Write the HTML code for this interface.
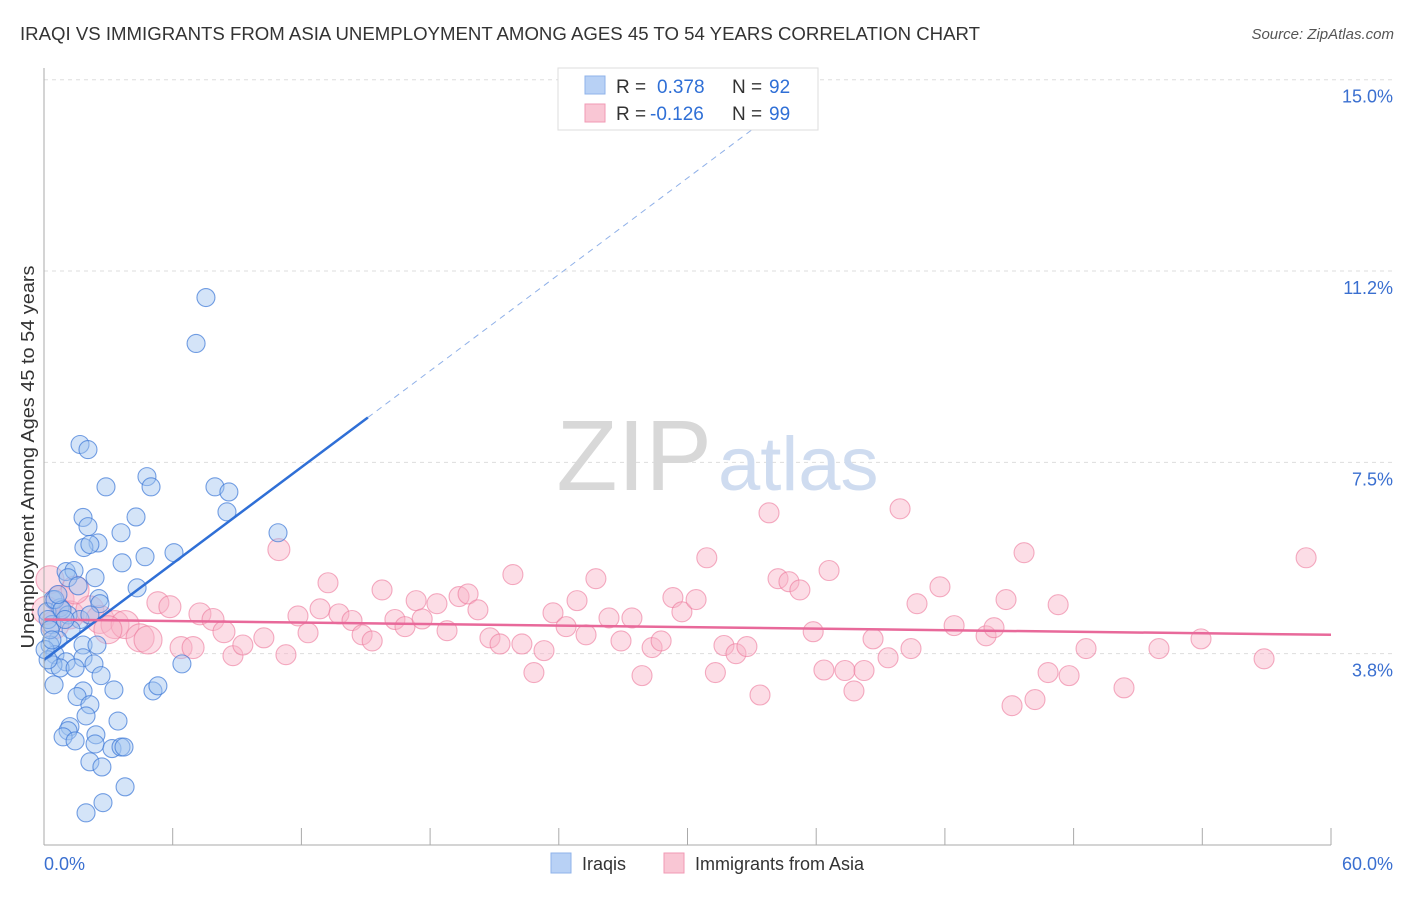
<!DOCTYPE html>
<html><head><meta charset="utf-8"><style>
body{margin:0;background:#fff;font-family:"Liberation Sans",sans-serif}
svg text{font-family:"Liberation Sans",sans-serif}
</style></head><body>
<svg width="1406" height="892" xmlns="http://www.w3.org/2000/svg">
<text x="20" y="40" font-size="18" fill="#333" textLength="960" lengthAdjust="spacingAndGlyphs">IRAQI VS IMMIGRANTS FROM ASIA UNEMPLOYMENT AMONG AGES 45 TO 54 YEARS CORRELATION CHART</text>
<text x="1394" y="39" font-size="15" fill="#555" font-style="italic" text-anchor="end">Source: ZipAtlas.com</text>
<g id="grid"></g>
<text x="712" y="490" font-size="100" fill="#d8d8d8" text-anchor="end" font-family="Liberation Serif">ZIP</text>
<text x="718" y="490" font-size="76" fill="#cfdcf0">atlas</text>
<g id="pts"></g>
<g id="lines"></g>
<line x1="44" y1="68" x2="44" y2="845" stroke="#aaa"/>
<line x1="44" y1="845" x2="1331" y2="845" stroke="#aaa"/>
<g id="xt"></g>
<text x="44" y="870" font-size="18" fill="#3a6fd0">0.0%</text>
<text x="1393" y="870" font-size="18" fill="#3a6fd0" text-anchor="end">60.0%</text>
<text transform="translate(34,457) rotate(-90)" font-size="18" fill="#333" text-anchor="middle" textLength="383" lengthAdjust="spacingAndGlyphs">Unemployment Among Ages 45 to 54 years</text>
<g>
<rect x="558" y="68" width="260" height="62" fill="#fff" stroke="#ddd"/>
<rect x="585" y="76" width="20" height="18" fill="#b8d1f5" stroke="#8fb3ea"/>
<rect x="585" y="104" width="20" height="18" fill="#f9c6d4" stroke="#f19ab4"/>
<text y="93" font-size="19" fill="#333"><tspan x="616">R =</tspan><tspan x="657" fill="#2f6fd6">0.378</tspan><tspan x="732">N =</tspan><tspan x="769" fill="#2f6fd6">92</tspan></text>
<text y="120" font-size="19" fill="#333"><tspan x="616">R =</tspan><tspan x="650" fill="#2f6fd6">-0.126</tspan><tspan x="732">N =</tspan><tspan x="769" fill="#2f6fd6">99</tspan></text>
</g>
<g>
<rect x="551" y="853" width="20" height="20" fill="#b8d1f5" stroke="#8fb3ea"/>
<text x="582" y="870" font-size="18" fill="#333">Iraqis</text>
<rect x="664" y="853" width="20" height="20" fill="#f9c6d4" stroke="#f19ab4"/>
<text x="695" y="870" font-size="18" fill="#333">Immigrants from Asia</text>
</g>
</svg>
<script>
const yTicks=[15,11.25,7.5,3.75];
const yTickLabels=["15.0%","11.2%","7.5%","3.8%"];
const xTicks=[0,6,12,18,24,30,36,42,48,54,60];
const iraqX=[7.55,7.09,1.68,2.05,2.89,4.80,4.99,7.97,8.62,8.53,10.91,1.82,2.05,4.29,3.59,2.52,1.86,2.14,4.71,6.06,3.64,1.03,1.40,1.12,2.38,1.59,4.34,2.56,2.61,0.42,0.75,0.14,0.37,1.12,1.68,2.14,1.26,1.82,0.65,0.28,0.51,1.03,2.47,1.82,0.42,0.75,0.19,1.45,2.33,2.66,0.47,6.43,1.82,3.26,5.08,5.31,1.54,2.14,1.96,3.45,1.21,1.12,0.89,1.45,2.42,2.38,3.17,3.59,3.73,2.14,2.70,3.78,2.75,1.96,0.19,0.28,0.51,0.84,0.05,0.37,0.98,0.65];
const iraqY=[10.73,9.83,7.85,7.75,7.02,7.22,7.02,7.02,6.92,6.53,6.12,6.42,6.24,6.43,6.12,5.92,5.83,5.89,5.65,5.73,5.53,5.36,5.38,5.24,5.24,5.08,5.04,4.83,4.73,4.81,4.65,4.57,4.32,4.51,4.42,4.51,4.22,3.92,4.02,3.92,3.73,3.59,3.92,3.67,3.53,3.47,3.63,3.47,3.55,3.32,3.14,3.55,3.02,3.04,3.02,3.12,2.91,2.75,2.53,2.43,2.32,2.24,2.12,2.04,2.16,1.98,1.89,1.92,1.92,1.63,1.53,1.14,0.83,0.63,4.42,4.22,4.81,4.61,3.83,4.02,4.42,4.91];
const asiaX=[10.95,5.31,5.87,7.27,7.88,8.39,6.39,6.95,8.81,9.27,10.25,11.28,11.84,12.31,12.87,13.24,13.75,14.36,14.83,15.3,15.76,16.36,16.83,17.35,17.63,18.32,18.79,19.35,19.77,20.23,20.79,21.26,21.86,22.28,22.84,23.31,23.73,24.34,24.85,25.27,25.73,26.34,26.9,27.41,27.88,28.35,28.77,29.32,29.74,30.4,30.9,31.3,31.7,32.26,32.77,33.38,33.8,34.22,34.73,35.24,35.86,36.36,36.6,37.34,37.76,38.23,38.65,39.35,39.91,40.42,40.7,41.77,42.43,43.92,44.29,44.85,45.13,45.69,46.2,46.81,47.28,47.79,48.58,50.35,51.98,53.94,56.88,58.84,0.28,0.75,1.21,2.14,2.61,3.31,3.78,2.98,4.48,4.85,0.51,1.45,0.1];
const asiaY=[5.79,4.75,4.67,4.53,4.42,4.18,3.87,3.87,3.71,3.92,4.06,3.73,4.49,4.16,4.63,5.14,4.53,4.40,4.12,4.00,5.00,4.42,4.28,4.79,4.43,4.73,4.20,4.87,4.92,4.61,4.06,3.94,5.30,3.94,3.38,3.81,4.55,4.28,4.79,4.12,5.22,4.45,4.00,4.45,3.32,3.87,4.00,4.85,4.57,4.81,5.63,3.38,3.91,3.75,3.89,2.94,6.51,5.22,5.16,5.00,4.18,3.43,5.38,3.42,3.02,3.42,4.04,3.67,6.59,3.85,4.73,5.06,4.30,4.10,4.26,4.81,2.73,5.73,2.85,3.38,4.71,3.32,3.85,3.08,3.85,4.04,3.65,5.63,5.20,4.81,4.51,4.61,4.42,4.32,4.32,4.22,4.06,4.02,4.32,5.00,4.6];
const asiaR=[11,11,11,11,11,11,11,11,10,10,10,10,10,10,10,10,10,10,10,10,10,10,10,10,10,10,10,10,10,10,10,10,10,10,10,10,10,10,10,10,10,10,10,10,10,10,10,10,10,10,10,10,10,10,10,10,10,10,10,10,10,10,10,10,10,10,10,10,10,10,10,10,10,10,10,10,10,10,10,10,10,10,10,10,10,10,10,10,14,14,14,14,14,14,14,14,14,14,14,14,14];
const blueTrend=[0,3.63,15.1,8.38,35.8,14.9];
const pinkTrend=[0,4.42,60,4.12];
const X=v=>44+v*21.45, Y=v=>845-v*51.02;
const NS="http://www.w3.org/2000/svg";
function mk(t,a,p){const e=document.createElementNS(NS,t);for(const k in a)e.setAttribute(k,a[k]);p.appendChild(e);return e;}
const grid=document.getElementById('grid');
yTicks.forEach((t,i)=>{
 const l=mk('line',{x1:44,x2:1393,y1:Y(t),y2:Y(t),stroke:'#ddd','stroke-dasharray':'4,4'},grid);
 
 
 const tx=mk('text',{x:1393,y:Y(t)+23,'font-size':18,fill:'#3a6fd0','text-anchor':'end'},grid);
 tx.textContent=yTickLabels[i];
 
 
});
const xt=document.getElementById('xt');
xTicks.forEach(t=>{
 const l=mk('line',{x1:X(t),x2:X(t),y1:828,y2:845,stroke:'#aaa'},xt);
 
 
});
const pts=document.getElementById('pts');
asiaX.forEach((x,i)=>{
 const c=mk('circle',{cx:X(x),cy:Y(asiaY[i]),r:asiaR[i],fill:'rgba(249,180,200,0.45)',stroke:'rgba(236,120,155,0.6)','stroke-width':1.1},pts);
 
 
});
iraqX.forEach((x,i)=>{
 const c=mk('circle',{cx:X(x),cy:Y(iraqY[i]),r:9,fill:'rgba(160,195,240,0.45)',stroke:'rgba(60,120,215,0.7)','stroke-width':1.1},pts);
 
 
});
const ln=document.getElementById('lines');
const b1=mk('line',{x1:X(blueTrend[0]),y1:Y(blueTrend[1]),x2:X(blueTrend[2]),y2:Y(blueTrend[3]),stroke:'#2f6fd6','stroke-width':2.5},ln);


const b2=mk('line',{x1:X(blueTrend[2]),y1:Y(blueTrend[3]),x2:X(blueTrend[4]),y2:Y(blueTrend[5]),stroke:'#8fb0e8','stroke-width':1,'stroke-dasharray':'6,5'},ln);


const p1=mk('line',{x1:X(pinkTrend[0]),y1:Y(pinkTrend[1]),x2:X(pinkTrend[2]),y2:Y(pinkTrend[3]),stroke:'#e8699a','stroke-width':2.5},ln);


</script>
</body></html>
